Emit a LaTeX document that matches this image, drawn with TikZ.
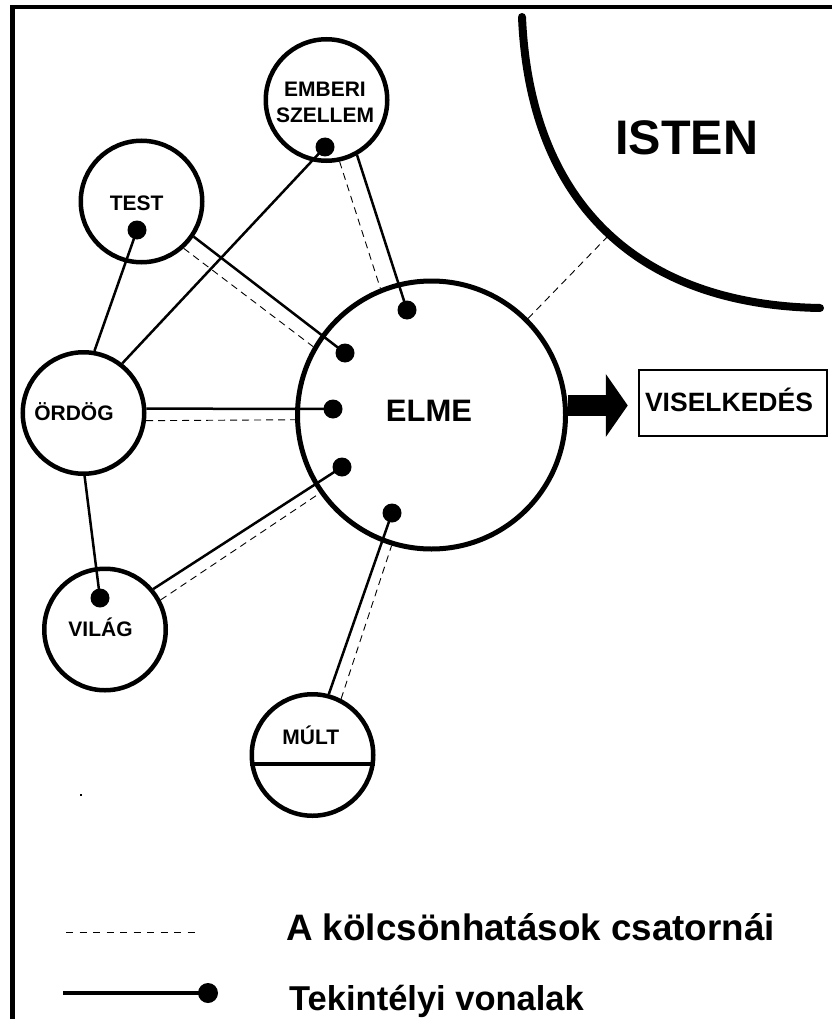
\documentclass[tikz,border=0pt]{standalone}
\usepackage{fontspec}
\setmainfont{Liberation Sans}
\usetikzlibrary{arrows.meta}
\tikzset{
  ent/.style={circle, draw, line width=4.5pt, minimum size=121.5pt, inner sep=0pt},
  big/.style={circle, draw, line width=5pt, minimum size=268pt, inner sep=0pt},
  lbl/.style={font=\fontsize{21}{25}\selectfont\bfseries, anchor=base, inner sep=0pt},
  auth/.style={line width=2.5pt},
  chan/.style={line width=0.9pt, dash pattern=on 7pt off 5pt},
  pin/.style={circle, fill, inner sep=0pt, minimum size=19pt},
}
\begin{document}
\begin{tikzpicture}[x=1pt, y=-1pt]
\useasboundingbox (0,0) rectangle (832,1019);
% frame
\draw[line width=4.5pt] (832,7) -- (12.5,7) -- (12.5,1019);
% God arc
\draw[line width=8pt, line cap=round] (522,17) .. controls (530,205) and (640,305) .. (820,308);
\coordinate (godpt) at (610,234);
\node[font=\fontsize{48.5}{52}\selectfont\bfseries, anchor=base, inner sep=0pt] (isten) at (686.7,154.3) {ISTEN};

% circles
\node[ent] (E) at (326.5,100) {};
\node[ent] (T) at (141.5,201.5) {};
\node[ent] (O) at (83.5,413) {};
\node[ent] (V) at (105,629.5) {};
\node[ent] (M) at (312.5,755) {};
\node[big] (L) at (431.5,415) {};
\draw[line width=4.5pt] (M.188) -- (M.-8);

% labels
\node[lbl] (eL1) at (325,96.7) {EMBERI};
\node[lbl] (eL2) at (325,122.7) {SZELLEM};
\node[lbl] (tL) at (136.7,210.7) {TEST};
\node[lbl] (oL) at (74,420) {ÖRDÖG};
\node[lbl] (vL) at (100.5,636.7) {VILÁG};
\node[lbl] (mL) at (310.8,744.3) {MÚLT};
\node[font=\fontsize{31}{35}\selectfont\bfseries, anchor=base, inner sep=0pt] (lL) at (429,421.7) {ELME};

% behaviour box
\node[draw, line width=2.5pt, minimum width=188pt, minimum height=66pt, inner sep=0pt] (VB) at (733,403) {};
\node[font=\fontsize{26.5}{30}\selectfont\bfseries, anchor=base, inner sep=0pt] (vbL) at (729,411) {VISELKEDÉS};
\draw[line width=21pt, -{Triangle[length=22pt,width=62pt]}, shorten >=10pt] (L.4) -- (L.4 -| VB.west);

% pins
\node[pin] (p1) at (325,147) {};
\node[pin] (p2) at (137,230) {};
\node[pin] (p3) at (345,353) {};
\node[pin] (p4) at (407,310) {};
\node[pin] (p5) at (333,409) {};
\node[pin] (p6) at (342,467) {};
\node[pin] (p7) at (100,598) {};
\node[pin] (p8) at (392,513) {};

% authority lines
\draw[auth] (p1.center) -- (O.52);
\draw[auth] (p2.center) -- (O.80);
\draw[auth] (T.-34) -- (p3.center);
\draw[auth] (E.-61) -- (p4.center);
\draw[auth] (O.4) -- (p5.center);
\draw[auth] (V.40) -- (p6.center);
\draw[auth] (O.-89) -- (p7.center);
\draw[auth] (M.75) -- (p8.center);

% channels
\draw[chan] (E.-78) -- (L.112);
\draw[chan] (T.-48) -- (L.150);
\draw[chan] (O.-7) -- (L.182);
\draw[chan] (V.28) -- (L.215);
\draw[chan] (M.63) -- (L.253);
\draw[chan] (L.45) -- (godpt);

% stray dot
\fill (80,794) rectangle (82,796);

% legend
\coordinate (la) at (66,932);
\coordinate (lb) at (197,932);
\draw[line width=0.9pt, dash pattern=on 7pt off 6.5pt] (la) -- (lb);
\node[font=\fontsize{36.8}{40}\selectfont\bfseries, anchor=base west, inner sep=0pt] (t1) at (286,940) {A kölcsönhatások csatornái};
\coordinate (lc) at (63,993);
\node[pin, minimum size=20pt] (lp) at (208,993) {};
\draw[line width=3.5pt] (lc) -- (lp.center);
\node[font=\fontsize{34.5}{40}\selectfont\bfseries, anchor=base west, inner sep=0pt] (t2) at (289,1010) {Tekintélyi vonalak};
\end{tikzpicture}
\end{document}
